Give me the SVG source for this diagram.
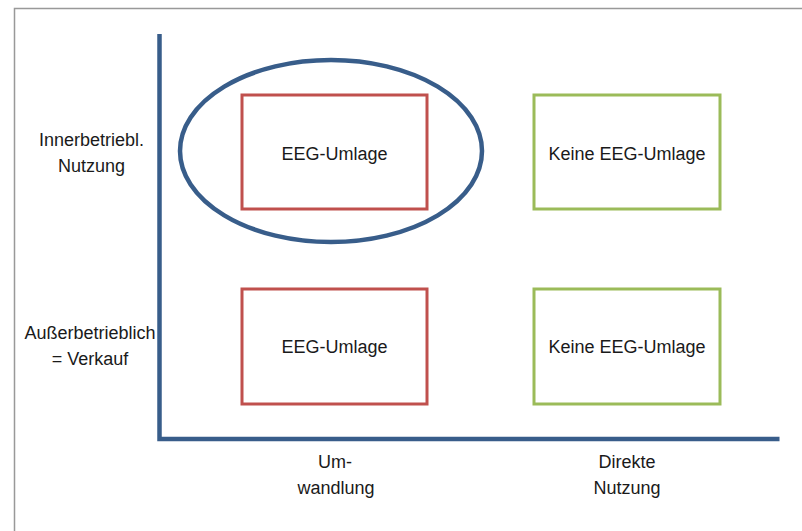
<svg xmlns="http://www.w3.org/2000/svg" width="802" height="531" viewBox="0 0 802 531">
<style>
text{font-family:"Liberation Sans",Arial,sans-serif;font-size:18px;fill:#1a1a1a;text-anchor:middle}
.red{fill:none;stroke:#C0504D;stroke-width:3}
.green{fill:none;stroke:#9BBB59;stroke-width:3}
.axis{fill:none;stroke:#385D8A;stroke-width:4.5}
</style>
<rect width="802" height="531" fill="#fff"/>
<path d="M14.5 531 V8.5 H802" fill="none" stroke="#999" stroke-width="1.5"/>
<g id="connectors">
<path class="axis" d="M159.5 34 V439 H779.5"/>
</g>
<g id="ellipse"><ellipse cx="331" cy="151" rx="151" ry="91" fill="none" stroke="#385D8A" stroke-width="4.5"/></g>
<g id="box-tl"><rect class="red" x="242" y="95" width="185" height="114"/><text x="334.5" y="160">EEG-Umlage</text></g>
<g id="box-tr"><rect class="green" x="534" y="95" width="186" height="114"/><text x="627" y="160">Keine EEG-Umlage</text></g>
<g id="box-bl"><rect class="red" x="242" y="289" width="185" height="115"/><text x="334.5" y="353">EEG-Umlage</text></g>
<g id="box-br"><rect class="green" x="534" y="289" width="186" height="115"/><text x="627" y="353">Keine EEG-Umlage</text></g>
<g id="label-y1"><text x="91.5" y="146">Innerbetriebl.</text><text x="91.5" y="172">Nutzung</text></g>
<g id="label-y2"><text x="90" y="339">Außerbetrieblich</text><text x="90" y="365">= Verkauf</text></g>
<g id="label-x1"><text x="335" y="468">Um-</text><text x="336" y="494">wandlung</text></g>
<g id="label-x2"><text x="627" y="468">Direkte</text><text x="627" y="494">Nutzung</text></g>
</svg>
